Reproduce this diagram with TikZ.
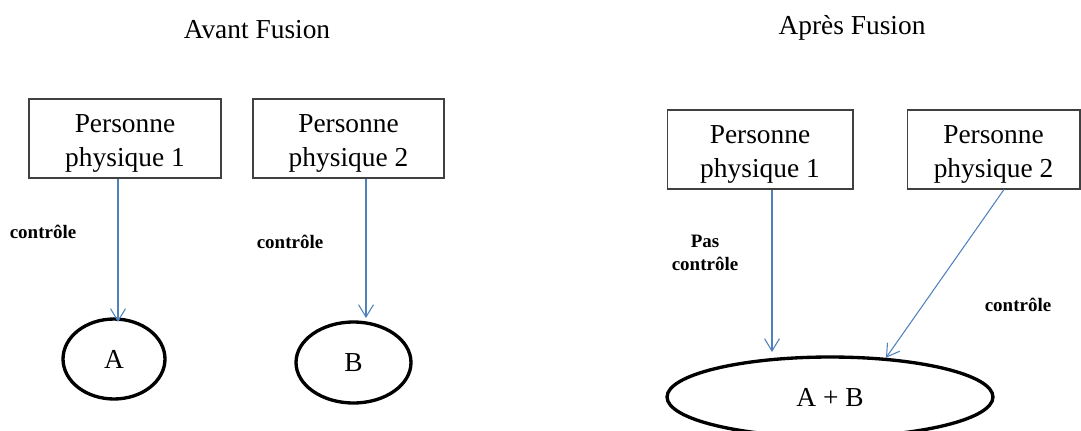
\documentclass[tikz,border=0pt]{standalone}
\usepackage{fontspec}
\setmainfont{Liberation Serif}
\usetikzlibrary{shapes.geometric,arrows.meta}
\definecolor{lienbleu}{RGB}{79,129,189}

\begin{document}
\begin{tikzpicture}[x=0.02cm,y=-0.02cm,
 personne/.style={draw=black!75,line width=0.6pt,minimum height=1.58cm,align=center,font=\fontsize{15.6}{19.3}\selectfont},
 societe/.style={ellipse,draw,line width=1.9pt,minimum height=1.6cm,font=\fontsize{15.6}{18.3}\selectfont},
 lien/.style={-{Straight Barb[length=7pt,width=8.5pt]},color=lienbleu,line width=0.6pt},
 etiq/.style={font=\fontsize{10.8}{13}\selectfont\bfseries,align=center},
 titre/.style={font=\fontsize{15.6}{18.3}\selectfont}]
\useasboundingbox (0,0) rectangle (1081,430);
\coordinate (f1) at (118,322);
\coordinate (f2) at (366,318);
\coordinate (f3) at (772,352);

 \node[titre] (avant) at (257,30) {Avant Fusion};
 \node[titre] (apres) at (852,28) {Après Fusion};
 \node[personne, minimum width=3.84cm] (p1) at (125,138.5) {\rule{0pt}{15.5pt}Personne\\physique 1};
 \node[personne, minimum width=3.82cm] (p2) at (348.5,138.5) {\rule{0pt}{15.5pt}Personne\\physique 2};
 \node[personne, minimum width=3.72cm] (p3) at (760,149.5) {\rule{0pt}{15.5pt}Personne\\physique 1};
 \node[personne, minimum width=3.46cm] (p4) at (993.5,149.5) {\rule{0pt}{15.5pt}Personne\\physique 2};
 \node[societe, minimum width=2.04cm] (a) at (114,359) {A};
 \node[societe, minimum width=2.3cm, minimum height=1.62cm] (b) at (353.5,362.5) {B};
 \node[societe, minimum width=6.52cm] (ab) at (830,397) {A + B};
 \draw[lien] (p1.south -| f1) -- (f1);
 \draw[lien] (p2.south -| f2) -- (f2);
 \draw[lien] (p3.south -| f3) -- (f3);
 \draw[lien] ([xshift=0.21cm]p4.south) -- (ab.35);
 \node[etiq] (c1) at (43,232) {contrôle};
 \node[etiq] (c2) at (290,242) {contrôle};
 \node[etiq] (c3) at (705,253) {Pas\\contrôle};
 \node[etiq] (c4) at (1018,305) {contrôle};
\end{tikzpicture}
\end{document}
